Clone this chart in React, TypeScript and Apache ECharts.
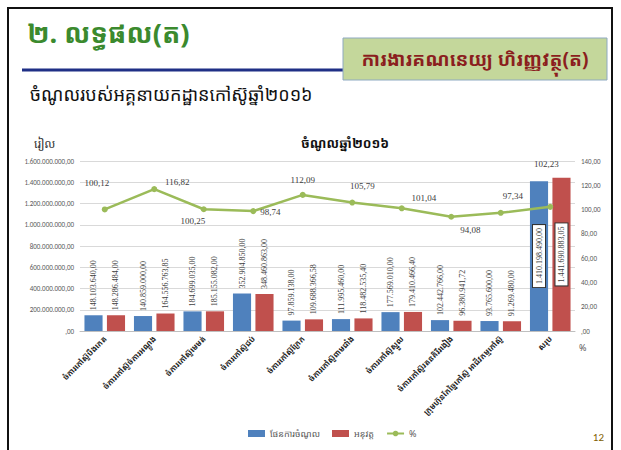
import React, { useEffect, useRef } from "react";
import * as echarts from "echarts";

const categories = [
  "ចំការកៅស៊ូបឹងកេត",
  "ចំការកៅស៊ូចំការអណ្ដូង",
  "ចំការកៅស៊ូមេមត់",
  "ចំការកៅស៊ូជប់",
  "ចំការកៅស៊ូក្រែក",
  "ចំការកៅស៊ូពាមជាំង",
  "ចំការកៅស៊ូស្នួល",
  "ចំការកៅស៊ូរតនគិរីរងៀង",
  "ក្រុមហ៊ុនកែច្នៃកៅស៊ូ អាជីវកម្មកៅស៊ូ",
  "សរុប",
];
const planValues = [
  148103640, 140859000, 184699035, 352904850, 97859138, 111995460, 177569010,
  102442766, 93765600, 1410198490,
];
const actualValues = [
  148286484, 164556763.85, 185155082, 348460863, 109688366.58, 118482535.4,
  179410466.4, 96380941.72, 91269480, 1441690883.05,
];
const percentValues = [
  100.12, 116.82, 100.25, 98.74, 112.09, 105.79, 101.04, 94.08, 97.34, 102.23,
];
const seriesNames = ["ផែនការចំណូល", "អនុវត្ត", "%"];
// label offsets for the % line labels [dx, dy]
const lineLabelOffsets: [number, number][] = [
  [-8, -14], [23, 5], [-11, 24], [17, 13], [0, -2], [10, -4],
  [22, 2], [19, 26], [12, -4], [-4, -30],
];

const KH = "'Noto Sans Khmer', 'Khmer OS', 'Khmer OS System', 'Noto Serif Khmer', sans-serif";

function fmt(v: number, dec = 2): string {
  const s = v.toFixed(dec);
  const [i, d] = s.split(".");
  const ip = i === "0" ? "" : i.replace(/\B(?=(\d{3})+(?!\d))/g, ".");
  return ip + "," + d;
}

export default function App() {
  const ref = useRef<HTMLDivElement>(null);
  useEffect(() => {
    if (!ref.current) return;
    const chart = echarts.init(ref.current, null, { renderer: "svg" });
    const last = categories.length - 1;
    const insideLabel = {
      show: true,
      position: "inside",
      rotate: 90,
      align: "center",
      verticalAlign: "middle",
      backgroundColor: "#fff",
      borderColor: "#333",
      borderWidth: 1,
      padding: [2, 3],
    };
    const barData = (vals: number[]) =>
      vals.map((v, i) => (i === last ? { value: v, label: insideLabel } : v));
    const barLabel = {
      show: true,
      position: "top",
      rotate: 90,
      align: "left",
      verticalAlign: "middle",
      distance: 5,
      fontSize: 8,
      fontFamily: "'Liberation Serif', 'DejaVu Serif', serif",
      color: "#404040",
      formatter: (p: any) => fmt(p.value),
    };
    chart.setOption({
      animation: false,
      backgroundColor: "#ffffff",
      textStyle: { fontFamily: KH },
      graphic: [
        {
          type: "rect",
          shape: { x: 8, y: 8, width: 604, height: 470 },
          style: { fill: "none", stroke: "#111", lineWidth: 2 },
        },
        {
          type: "text",
          left: 27,
          top: 19,
          style: {
            text: "២. លទ្ធផល(ត)",
            fill: "#3b8a2e",
            font: "bold 27px " + KH,
          },
        },
        {
          type: "line",
          shape: { x1: 22, y1: 70, x2: 345, y2: 70 },
          style: { stroke: "#1f2f86", lineWidth: 3 },
        },
        {
          type: "rect",
          shape: { x: 343, y: 38, width: 264, height: 42 },
          style: { fill: "#c4d79b", stroke: "#8ea9c1", lineWidth: 1 },
        },
        {
          type: "text",
          x: 475,
          y: 59,
          style: {
            text: "ការងារគណនេយ្យ ហិរញ្ញវត្ថុ(ត)",
            fill: "#8b1e1e",
            font: "bold 19px " + KH,
            align: "center",
            verticalAlign: "middle",
          },
        },
        {
          type: "text",
          x: 30,
          y: 94,
          style: {
            text: "ចំណូលរបស់អគ្គនាយកដ្ឋានកៅស៊ូឆ្នាំ២០១៦",
            fill: "#111",
            font: "18px " + KH,
            verticalAlign: "middle",
          },
        },
        {
          type: "text",
          x: 34,
          y: 143,
          style: {
            text: "រៀល",
            fill: "#333",
            font: "12px " + KH,
            verticalAlign: "middle",
          },
        },
        {
          type: "text",
          x: 604,
          y: 437,
          style: {
            text: "12",
            fill: "#7f6000",
            font: "11px Calibri, 'Liberation Sans', sans-serif",
            align: "right",
            verticalAlign: "middle",
          },
        },
      ],
      title: {
        text: "ចំណូលឆ្នាំ២០១៦",
        left: 340,
        top: 131,
        textAlign: "center",
        textStyle: { fontFamily: KH, fontSize: 13, fontWeight: "bold", color: "#111" },
      },
      legend: {
        left: 243,
        top: 424,
        itemWidth: 17,
        itemHeight: 7,
        itemGap: 12,
        textStyle: { fontFamily: KH, fontSize: 9, color: "#595959" },
        data: [
          { name: seriesNames[0], icon: "rect" },
          { name: seriesNames[1], icon: "rect" },
          { name: seriesNames[2] },
        ],
      },
      grid: { left: 80, right: 46, top: 161, bottom: 119, containLabel: false },
      xAxis: {
        type: "category",
        data: categories,
        axisLine: { lineStyle: { color: "#bfbfbf" } },
        axisTick: { show: false },
        axisLabel: {
          rotate: 45,
          interval: 0,
          fontSize: 8,
          fontWeight: "bold",
          color: "#222",
          fontFamily: KH,
          margin: 6,
        },
      },
      yAxis: [
        {
          type: "value",
          min: 0,
          max: 1600000000,
          interval: 200000000,
          axisLine: { show: false },
          axisTick: { show: false },
          splitLine: { lineStyle: { color: "#d9d9d9" } },
          axisLabel: {
            formatter: (v: number) => fmt(v),
            fontSize: 7,
            color: "#595959",
            fontFamily: "Calibri, 'Liberation Sans', sans-serif",
            margin: 6,
          },
        },
        {
          type: "value",
          min: 0,
          max: 140,
          interval: 20,
          name: "%",
          nameLocation: "start",
          nameGap: 12,
          nameTextStyle: { fontSize: 9, color: "#595959", align: "left", padding: [0, 0, 0, 4] },
          axisLine: { show: false },
          axisTick: { show: false },
          splitLine: { show: false },
          axisLabel: {
            formatter: (v: number) => fmt(v),
            fontSize: 7,
            color: "#595959",
            fontFamily: "Calibri, 'Liberation Sans', sans-serif",
            margin: 6,
          },
        },
      ],
      series: [
        {
          name: seriesNames[0],
          type: "bar",
          data: barData(planValues),
          barGap: "24%",
          barCategoryGap: "18%",
          itemStyle: { color: "#4f81bd" },
          label: barLabel,
        },
        {
          name: seriesNames[1],
          type: "bar",
          data: barData(actualValues),
          itemStyle: { color: "#c0504d" },
          label: barLabel,
        },
        {
          name: seriesNames[2],
          type: "line",
          yAxisIndex: 1,
          data: percentValues.map((v, i) => ({
            value: v,
            label: { offset: lineLabelOffsets[i] },
          })),
          symbol: "circle",
          symbolSize: 6,
          lineStyle: { color: "#9bbb59", width: 2.5 },
          itemStyle: { color: "#9bbb59" },
          z: 5,
          label: {
            show: true,
            position: "top",
            fontSize: 9,
            fontFamily: "'Liberation Serif', 'DejaVu Serif', serif",
            color: "#404040",
            formatter: (p: any) => fmt(p.value),
          },
        },
      ],
    });
    return () => chart.dispose();
  }, []);
  return (
    <div
      ref={ref}
      style={{ position: "fixed", left: 0, top: 0, width: 621, height: 450 }}
    />
  );
}
